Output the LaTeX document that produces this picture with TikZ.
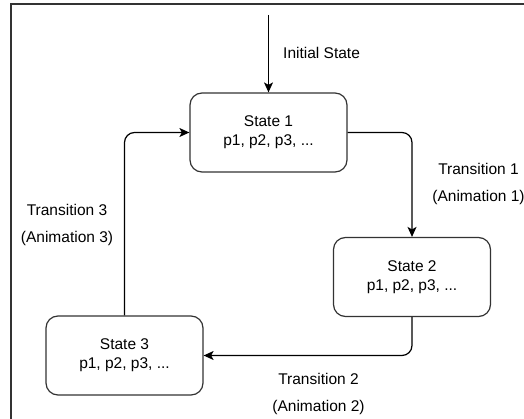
\documentclass[tikz,border=0pt]{standalone}
\usepackage{fontspec}
\setmainfont{Liberation Sans}
\usetikzlibrary{arrows.meta}
\definecolor{framegray}{HTML}{333333}
\tikzset{
  statebox/.style={draw=framegray, line width=1.2pt, rounded corners=12pt,
    minimum width=157pt, minimum height=79pt, align=center, inner sep=0pt,
    font=\fontsize{15.5}{19}\selectfont, fill=white},
  lbl/.style={align=center, inner sep=0pt, font=\fontsize{15.5}{27}\selectfont},
  arr/.style={draw=black, line width=1.2pt, rounded corners=10pt,
    -{Stealth[length=10pt,width=9pt,inset=2.5pt]}},
}
\begin{document}
\begin{tikzpicture}[x=1pt,y=-1pt]
\useasboundingbox (0,0) rectangle (524,419);
\draw[framegray, line width=1.2pt] (11,4) rectangle (540,440);
\node[statebox] (s1) at (268.5,132.5) {State 1\\p1, p2, p3, ...};
\node[statebox] (s2) at (412,277) {State 2\\p1, p2, p3, ...};
\node[statebox] (s3) at (124.5,355.5) {State 3\\p1, p2, p3, ...};
\coordinate (init) at (268.5,15);
\draw[arr] (init) -- (s1.north);
\draw[arr] (s1.east) -| (s2.north);
\draw[arr] (s2.south) |- (s3.east);
\draw[arr] (s3.north) |- (s1.west);
\node[lbl, anchor=west] (linit) at (283,53) {Initial State};
\node[lbl] (l1) at (478.5,184) {Transition 1\\(Animation 1)};
\node[lbl] (l3) at (67,224.5) {Transition 3\\(Animation 3)};
\node[lbl] (l2) at (318.5,393.5) {Transition 2\\(Animation 2)};
\end{tikzpicture}
\end{document}
